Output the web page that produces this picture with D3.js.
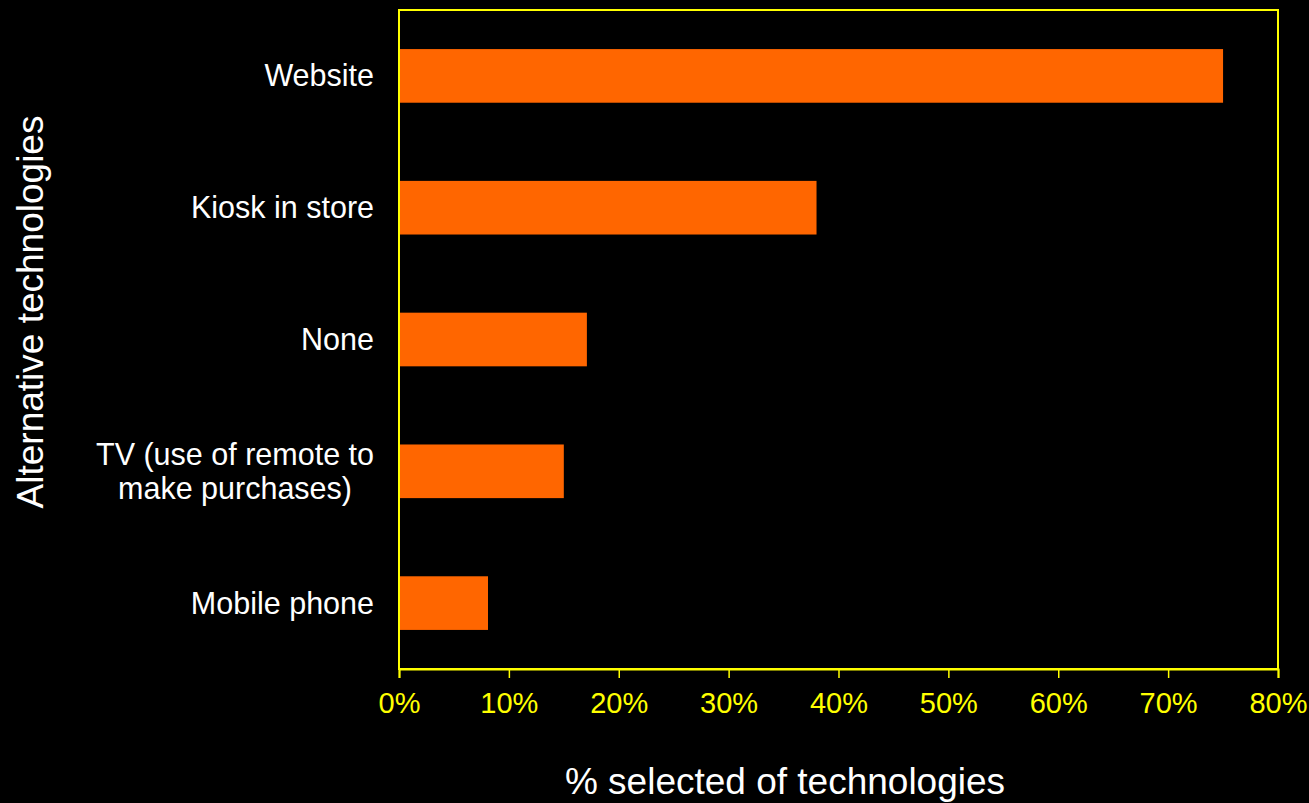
<!DOCTYPE html>
<html>
<head>
<meta charset="utf-8">
<script src="https://cdn.jsdelivr.net/npm/d3@7"></script>
<style>
  html, body { margin: 0; padding: 0; background: #000; }
  svg { display: block; }
  text { font-family: "Liberation Sans", Arial, sans-serif; }
</style>
</head>
<body>
<svg id="chart" width="1309" height="803"></svg>
<script>
// Survey results: share of respondents choosing each alternative technology
const categories = ["Website", "Kiosk in store", "None", "TV (use of remote to make purchases)", "Mobile phone"];
const categoryLines = [["Website"], ["Kiosk in store"], ["None"], ["TV (use of remote to", "make purchases)"], ["Mobile phone"]];
const values = [75, 38, 17.1, 15, 8.1];
const tickValues = [0, 10, 20, 30, 40, 50, 60, 70, 80];
const xTitle = "% selected of technologies";
const yTitle = "Alternative technologies";

const svg = d3.select("#chart");
const W = 1309, H = 803;
const margin = { left: 399, right: 31, top: 10, bottom: 134 };
const plotW = W - margin.left - margin.right;
const plotH = H - margin.top - margin.bottom;

svg.append("rect").attr("width", W).attr("height", H).attr("fill", "#000");

const x = d3.scaleLinear().domain([0, 80]).range([0, plotW]);
const y = d3.scaleBand().domain(categories).range([0, plotH]).paddingInner(0.593).paddingOuter(0.2965);

const g = svg.append("g").attr("transform", `translate(${margin.left},${margin.top})`);

// Bars
g.selectAll("rect.bar")
  .data(categories)
  .enter().append("rect")
  .attr("class", "bar")
  .attr("x", 0)
  .attr("y", d => y(d))
  .attr("width", (d, i) => x(values[i]))
  .attr("height", y.bandwidth())
  .attr("fill", "#FF6600");

// Plot frame
g.append("rect")
  .attr("x", 0).attr("y", 0)
  .attr("width", plotW).attr("height", plotH)
  .attr("fill", "none")
  .attr("stroke", "#FFFF00")
  .attr("stroke-width", 2);

// X axis
const xAxis = d3.axisBottom(x)
  .tickValues(tickValues)
  .tickFormat(d => d + "%")
  .tickSize(9)
  .tickPadding(14);

const ax = g.append("g")
  .attr("transform", `translate(0,${plotH})`)
  .call(xAxis);
ax.select(".domain").attr("stroke", "#FFFF00").attr("stroke-width", 2);
ax.selectAll(".tick line").attr("stroke", "#FFFF00").attr("stroke-width", 1.5);
ax.selectAll(".tick text")
  .attr("fill", "#FFFF00")
  .style("font-family", "'Liberation Sans', Arial, sans-serif")
  .style("font-size", "29px");

// Category labels: right-aligned block, wrapped lines centred within it
const lineH = 34;
const labelRight = -25;
categories.forEach((d, i) => {
  const lines = categoryLines[i];
  const cy = y(d) + y.bandwidth() / 2;
  const first = cy - (lines.length - 1) * lineH / 2 + 10.5;
  const t = g.append("text")
    .attr("class", "cat")
    .attr("fill", "#FFFFFF")
    .style("font-size", "30.5px");
  const spans = t.selectAll("tspan")
    .data(lines)
    .enter().append("tspan")
    .attr("y", (s, j) => first + j * lineH)
    .text(s => s);
  let maxW = 0;
  spans.each(function() { maxW = Math.max(maxW, this.getComputedTextLength()); });
  t.attr("text-anchor", "middle");
  spans.attr("x", labelRight - maxW / 2);
});

// Axis titles
svg.append("text")
  .attr("x", 785)
  .attr("y", 794)
  .attr("text-anchor", "middle")
  .attr("fill", "#FFFFFF")
  .style("font-size", "37px")
  .text(xTitle);

svg.append("text")
  .attr("transform", "translate(43,312) rotate(-90)")
  .attr("text-anchor", "middle")
  .attr("fill", "#FFFFFF")
  .style("font-size", "37px")
  .text(yTitle);
</script>
</body>
</html>
